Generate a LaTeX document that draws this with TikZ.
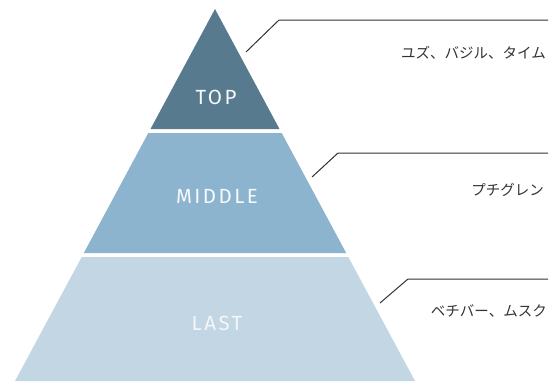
\documentclass[tikz,border=0pt]{standalone}
\usepackage{fontspec}
\newfontfamily\jpfont{Noto Sans CJK JP}
\newfontfamily\tierfont[LetterSpace=12]{Fira Sans}
\begin{document}
\begin{tikzpicture}[x=1pt,y=-1pt]
  \definecolor{tiertop}{HTML}{587A8F}
  \definecolor{tiermid}{HTML}{8DB4CE}
  \definecolor{tierlast}{HTML}{C3D6E3}
  \definecolor{leader}{HTML}{333333}
  \tikzset{tier/.style={font=\tierfont\fontsize{20.5}{21}\selectfont,text=white!92!tiermid},
    note/.style={font=\jpfont\fontsize{14.5}{15}\selectfont,text=leader,anchor=east,inner sep=0pt},
    lead/.style={leader,line width=1pt}}
  \useasboundingbox (0,0) rectangle (555,381);
  \clip (0,0) rectangle (555,381);
  % pyramid
  \fill [tiertop] (215,9) -- (279.5,129) -- (150.5,129) -- cycle;
  \fill [tiermid] (148.3,133) -- (281.7,133) -- (346.2,253) -- (83.8,253) -- cycle;
  \fill [tierlast] (81.7,257) -- (348.3,257) -- (415,381) -- (15,381) -- cycle;
  \node [tier] (top) at (216,97) {TOP};
  \node [tier] (middle) at (217,196) {MIDDLE};
  \node [tier,text=white!80!tierlast] (last) at (217,323) {LAST};
  % notes
  \node [note] (topnote) at (546,53) {ユズ、バジル、タイム};
  \node [note] (midnote) at (544,190) {プチグレン};
  \node [note] (lastnote) at (547,311) {ベチバー、ムスク};
  \coordinate (topfoot) at (246,52);
  \coordinate (midfoot) at (312,177);
  \coordinate (lastfoot) at (380,303);
  \draw [lead] (topfoot) -- (279,20) -- (548,20);
  \draw [lead] (midfoot) -- (338,153) -- (548,153);
  \draw [lead] (lastfoot) -- (408,279) -- (548,279);
\end{tikzpicture}
\end{document}
